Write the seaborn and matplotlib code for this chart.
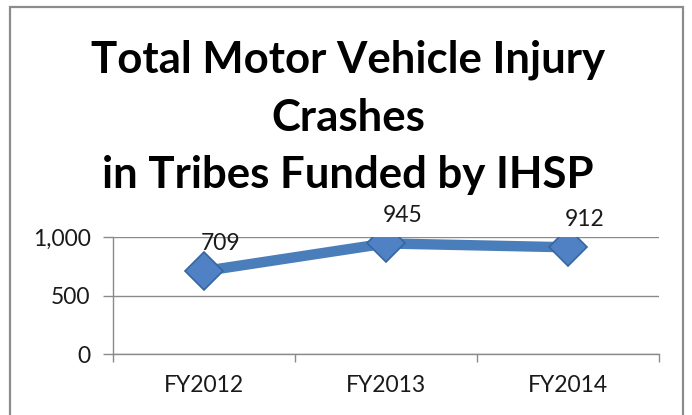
import matplotlib
matplotlib.use("Agg")
import matplotlib.pyplot as plt
import seaborn as sns
from matplotlib.patches import Rectangle
from matplotlib.ticker import FuncFormatter, FixedLocator

years = ["FY2012", "FY2013", "FY2014"]
crashes = [709, 945, 912]
title_lines = ["Total Motor Vehicle Injury", "Crashes", "in Tribes Funded by IHSP"]
y_ticks = [0, 500, 1000]

sns.set_theme(style="white")
plt.rcParams["font.family"] = ["Lato", "DejaVu Sans"]

W, H = 692, 415
fig = plt.figure(figsize=(W / 100, H / 100), dpi=100)
ax = fig.add_axes([113 / W, 1 - 354 / H, (659 - 113) / W, (354 - 237) / H])

line_color = "#4a7ebb"
sns.lineplot(x=years, y=crashes, ax=ax, color=line_color, linewidth=7.5,
             marker="D", markersize=19, markerfacecolor="#4f81c4",
             markeredgecolor="#3566a3", markeredgewidth=1.2, sort=False)

for i, v in enumerate(crashes):
    ax.annotate(f"{v}", (i, v), xytext=(12, 20), textcoords="offset points",
                ha="center", va="center", fontsize=16.5, color="#1a1a1a")

ax.set_xlim(-0.5, 2.5)
ax.set_ylim(0, 1000)
ax.yaxis.set_major_locator(FixedLocator(y_ticks))
ax.yaxis.set_major_formatter(FuncFormatter(lambda v, p: f"{int(v):,}"))
ax.grid(axis="y", color="#8a8a8a", linewidth=1)
ax.set_xlabel("")
ax.set_ylabel("")
ax.xaxis.set_minor_locator(FixedLocator([-0.5, 0.5, 1.5, 2.5]))
ax.tick_params(axis="x", which="major", length=0, pad=15, labelsize=16.5, labelcolor="#1a1a1a")
ax.tick_params(axis="x", which="minor", length=6, width=1, color="#8a8a8a", direction="out", bottom=True)
ax.tick_params(axis="y", which="major", length=7, width=1, color="#8a8a8a", direction="out",
               left=True, pad=9, labelsize=16.5, labelcolor="#1a1a1a")
for s in ["top", "right"]:
    ax.spines[s].set_visible(False)
for s in ["left", "bottom"]:
    ax.spines[s].set_color("#8a8a8a")
    ax.spines[s].set_linewidth(1)
ax.set_facecolor("none")

for k, (txt, yb) in enumerate(zip(title_lines, [73, 130.5, 188])):
    fig.text(348 / W, 1 - yb / H, txt, ha="center", va="baseline",
             fontsize=31.5, fontweight="bold", color="black")

fig.patches.append(Rectangle((10 / W, -0.1), (683 - 10) / W, 1.1 - 7 / H,
                             transform=fig.transFigure, fill=False,
                             edgecolor="#8c8c8c", linewidth=1.6))

fig.savefig("out.png", dpi=100)
